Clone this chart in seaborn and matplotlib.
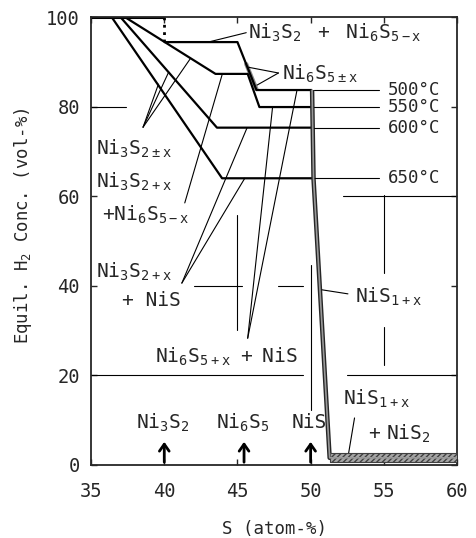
import matplotlib
matplotlib.use("Agg")
import matplotlib.pyplot as plt
import seaborn as sns
import pandas as pd

# ---------------- data ----------------
curve_500_x = [40.0, 45.0, 46.3, 50.1]
curve_500_y = [94.4, 94.4, 83.7, 83.7]
curve_550_x = [37.3, 43.5, 45.7, 46.5, 50.1]
curve_550_y = [100.0, 87.3, 87.3, 79.9, 79.9]
curve_600_x = [37.0, 43.6, 50.1]
curve_600_y = [100.0, 75.3, 75.3]
curve_650_x = [36.4, 43.95, 50.2]
curve_650_y = [100.0, 64.0, 64.0]
nis_edge_x = [50.1, 50.2, 51.3, 60.0]
nis_edge_y = [83.7, 63.8, 1.6, 1.6]
ni3s2_top_x = [35.0, 40.0]
ni3s2_top_y = [100.0, 100.0]
ni3s2_dot_x = [40.0, 40.0]
ni3s2_dot_y = [100.0, 94.4]
band_x = [51.3, 60.0]
band_lo = [0.7, 0.7]
band_hi = [2.7, 2.7]

temps = ["500°C", "550°C", "600°C", "650°C"]
plateau_y = [83.7, 79.9, 75.3, 64.0]

compound_x = [40.0, 45.45, 50.0]
compound_labels = [r"$\mathregular{Ni_3S_2}$", r"$\mathregular{Ni_6S_5}$", "NiS"]

x_ticks = [35, 40, 45, 50, 55, 60]
y_ticks = [0, 20, 40, 60, 80, 100]

# partial grid segments (y, x0, x1) and vertical segments (x, y0, y1)
hseg_y = [80, 60, 40, 40, 20, 20]
hseg_x0 = [35.0, 52.2, 42.0, 47.8, 35.0, 52.5]
hseg_x1 = [37.4, 60.0, 45.3, 49.5, 49.5, 60.0]
vseg_x = [44.97, 50.0, 55.0, 55.0]
vseg_y0 = [30.1, 12.3, 42.9, 22.3]
vseg_y1 = [55.8, 44.6, 60.3, 30.8]

# ---------------- style ----------------
sns.set_style("ticks")
plt.rcParams["font.family"] = ["DejaVu Sans Mono", "DejaVu Sans"]
plt.rcParams["mathtext.fontset"] = "custom"
plt.rcParams["mathtext.rm"] = "DejaVu Sans Mono"

fig = plt.figure(figsize=(4.77, 5.38), dpi=100)
ax = fig.add_axes([0.191, 0.1357, 0.767, 0.8327])

thick = 1.6
thin = 0.8

def line(xs, ys, lw=thick, color="black", ls="-"):
    df = pd.DataFrame({"x": xs, "y": ys})
    sns.lineplot(data=df, x="x", y="y", sort=False, estimator=None, ax=ax,
                 color=color, lw=lw, ls=ls, solid_capstyle="butt")

# grid fragments
for y, a, b in zip(hseg_y, hseg_x0, hseg_x1):
    ax.plot([a, b], [y, y], color="black", lw=thin)
for x, a, b in zip(vseg_x, vseg_y0, vseg_y1):
    ax.plot([x, x], [a, b], color="black", lw=thin)

# isotherms
line(ni3s2_top_x, ni3s2_top_y, lw=2.2)
line(ni3s2_dot_x, ni3s2_dot_y, lw=2.0, ls=":")
for xs, ys in [(curve_500_x, curve_500_y), (curve_550_x, curve_550_y),
               (curve_600_x, curve_600_y), (curve_650_x, curve_650_y)]:
    line(xs, ys)
# gray strip of the Ni6S5 single-phase region
ax.plot([45.6, 46.3], [89.5, 83.9], color="0.55", lw=3.0, zorder=1)
# NiS boundary (thick, grey core)
line(nis_edge_x, nis_edge_y, lw=3.2, color="0.15")
ax.plot(nis_edge_x, nis_edge_y, color="0.6", lw=1.2, zorder=5)
ax.fill_between(band_x, band_lo, band_hi, facecolor="0.65", edgecolor="0.25",
                hatch="//////", lw=0.8, zorder=4)

# temperature labels with thin extensions
for t, y in zip(temps, plateau_y):
    ax.plot([50.2, 54.7], [y, y], color="black", lw=thin)
    ax.text(55.3, y, t, fontsize=12.5, va="center", ha="left")

# phase labels and leaders
fs = 14
def lead(p0, p1):
    ax.plot([p0[0], p1[0]], [p0[1], p1[1]], color="black", lw=thin)

ax.text(45.75, 96.4, r"$\mathregular{Ni_3S_2\ \ +\ \ Ni_6S_{5-x}}$", fontsize=fs, va="center")
lead((45.6, 96.5), (43.0, 94.4))

ax.text(48.05, 87.4, r"$\mathregular{Ni_6S_{5\pm x}}$", fontsize=fs, va="center")
lead((47.8, 87.5), (45.72, 88.8))
lead((47.8, 87.5), (46.34, 84.8))

ax.text(35.35, 70.5, r"$\mathregular{Ni_3S_{2\pm x}}$", fontsize=fs, va="center")
for p in [(39.6, 85.0), (40.3, 87.7), (41.8, 90.8)]:
    lead((38.55, 75.4), p)

ax.text(35.35, 63.2, r"$\mathregular{Ni_3S_{2+x}}$", fontsize=fs, va="center")
ax.text(35.75, 55.8, r"$\mathregular{+Ni_6S_{5-x}}$", fontsize=fs, va="center")
lead((41.4, 58.5), (43.95, 87.1))

ax.text(35.35, 43.1, r"$\mathregular{Ni_3S_{2+x}}$", fontsize=fs, va="center")
ax.text(37.1, 36.8, "+ NiS", fontsize=fs, va="center")
lead((41.2, 40.6), (45.66, 75.3))
lead((41.2, 40.6), (45.5, 64.0))

ax.text(39.4, 24.1, r"$\mathregular{Ni_6S_{5+x}\ +\ NiS}$", fontsize=fs, va="center")
lead((45.7, 28.3), (47.4, 79.9))
lead((45.7, 28.3), (49.07, 83.7))

ax.text(53.0, 37.5, r"$\mathregular{NiS_{1+x}}$", fontsize=fs, va="center")
lead((50.78, 39.1), (52.55, 38.2))

ax.text(52.2, 14.7, r"$\mathregular{NiS_{1+x}}$", fontsize=fs, va="center")
ax.text(53.9, 7.0, r"$\mathregular{+\ NiS_2}$", fontsize=fs, va="center")
lead((53.0, 10.5), (52.6, 2.7))

# compound markers
for x, lab in zip(compound_x, compound_labels):
    ax.annotate("", xy=(x, 5.8), xytext=(x, 0.0),
                arrowprops=dict(arrowstyle="->,head_length=0.5,head_width=0.35",
                                lw=2.0, color="black"))
    ax.text(x - 0.1, 9.4, lab, fontsize=fs, ha="center", va="center")

# axes
ax.set_xlim(35, 60)
ax.set_ylim(0, 100)
ax.set_xticks(x_ticks)
ax.set_yticks(y_ticks)
ax.tick_params(direction="in", length=4, width=1, labelsize=13.5, top=True, right=True)
ax.tick_params(axis="x", pad=12)
ax.tick_params(axis="y", pad=8)
for s in ax.spines.values():
    s.set_linewidth(1.3)
ax.set_xlabel("S (atom-%)", fontsize=12.5, labelpad=14)
ax.set_ylabel(r"Equil. $\mathregular{H_2}$ Conc. (vol-%)", fontsize=12.5, labelpad=8)
ax.yaxis.set_label_coords(-0.155, 0.535)

fig.savefig("out.png", dpi=100)
